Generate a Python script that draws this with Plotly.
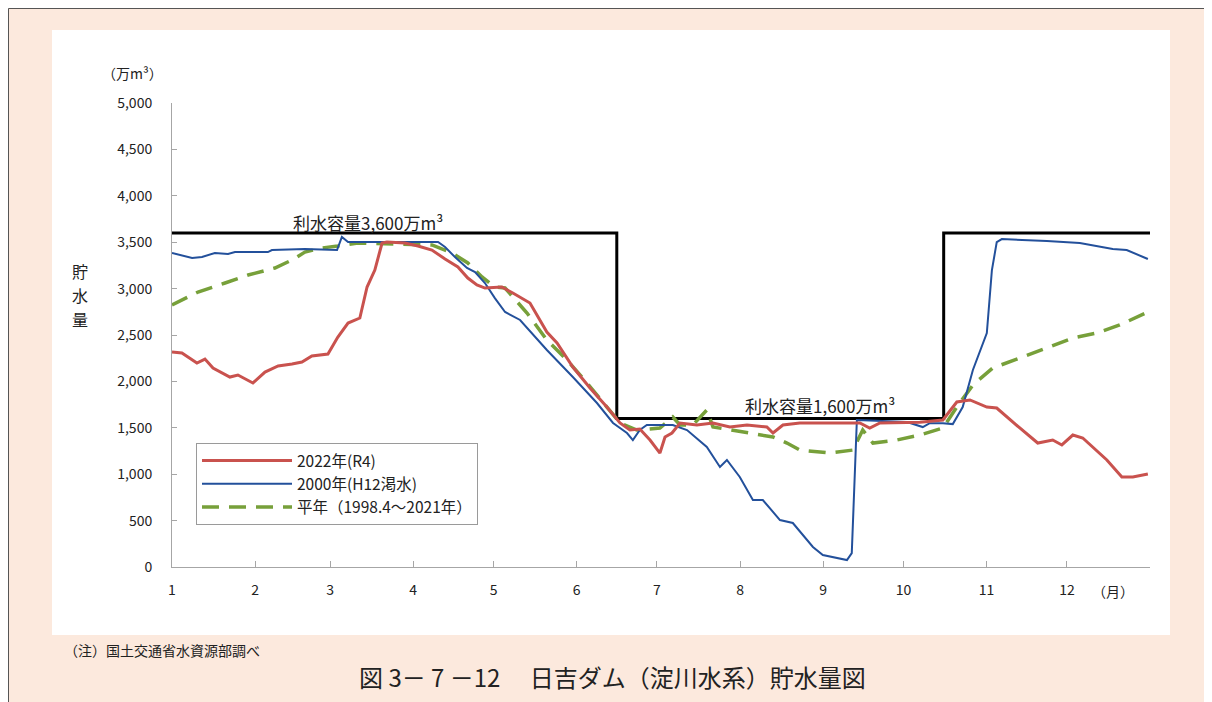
import plotly.graph_objects as go

# ---- data (x = day of year, 0 = Jan 1) ----
red_days = [0, 3.7, 9.3, 12.3, 15.3, 21.6, 24.6, 30.2, 34.7, 39.6, 44.8, 48.5, 52.2, 58.2, 61.9, 65.7, 70.1,
            72.8, 75.7, 78.4, 80.2, 86.9, 91.8, 97.0, 101.9, 106.7, 110.4, 113.8, 116.8, 123.1, 127.2, 133.6,
            139.9, 143.7, 149.6, 156.0, 162.3, 167.2, 170.9, 174.6, 178.4, 182.1, 184.0, 186.6, 189.6, 195.9,
            201.9, 208.2, 214.6, 222.0, 224.3, 228.0, 234.3, 245.5, 256.7, 260.4, 264.2, 279.1, 287.7, 292.9,
            297.8, 304.1, 307.8, 316.4, 323.1, 328.7, 332.1, 336.2, 339.9, 348.9, 354.5, 358.6, 364.2]
red_vals = [2317, 2306, 2198, 2241, 2144, 2047, 2069, 1983, 2101, 2166, 2187, 2209, 2274, 2295, 2478, 2629, 2683,
            3017, 3200, 3491, 3502, 3491, 3459, 3416, 3319, 3233, 3114, 3039, 3006, 3017, 2952, 2845,
            2532, 2414, 2155, 1929, 1724, 1552, 1476, 1487, 1368, 1228, 1401, 1444, 1552, 1530,
            1552, 1509, 1530, 1509, 1444, 1530, 1552, 1552, 1552, 1498, 1552, 1560, 1584, 1778,
            1800, 1724, 1713, 1498, 1336, 1368, 1315, 1422, 1390, 1153, 970, 970, 1002]

blue_days = [0, 7.5, 11.2, 16.0, 20.9, 23.5, 35.8, 37.3, 49.6, 61.6, 63.4, 65.7, 99.3, 101.9, 105.6, 110.1,
             113.1, 116.8, 120.5, 124.3, 129.9, 139.9, 149.6, 158.6, 164.6, 169.8, 172.0, 174.6, 177.2, 186.9,
             192.2, 199.6, 204.5, 207.1, 211.9, 216.8, 220.5, 226.9, 231.7, 239.2, 242.9, 251.9, 253.7, 255.6,
             260.4, 274.3, 280.2, 282.8, 287.7, 291.4, 295.1, 298.9, 304.1, 306.0, 307.8, 309.7, 326.5, 338.8,
             351.1, 356.3, 364.2]
blue_vals = [3384, 3330, 3341, 3384, 3373, 3394, 3394, 3416, 3427, 3416, 3556, 3502, 3502, 3448, 3340, 3222,
             3179, 3060, 2898, 2748, 2662, 2338, 2047, 1767, 1552, 1444, 1368, 1476, 1530, 1530,
             1476, 1293, 1078, 1153, 970, 722, 722, 506, 474, 216, 129, 75, 150, 1584,
             1580, 1562, 1508, 1550, 1550, 1540, 1724, 2123, 2521, 3200, 3500, 3534, 3513, 3491,
             3427, 3416, 3319]

green_days = [0, 3.7, 9.7, 19.8, 28.4, 38.4, 44.8, 49.6, 56.0, 61.9, 69.4, 84.3, 97.0, 104.5, 110.4, 115.7,
              120.5, 124.3, 132.5, 139.9, 147.4, 154.9, 162.3, 167.2, 173.5, 182.1, 186.9, 189.6, 194.4, 199.6,
              201.9, 209.3, 216.8, 224.3, 229.5, 234.3, 245.5, 254.1, 257.8, 261.6, 270.5, 279.1, 287.7, 292.9,
              298.9, 306.3, 316.4, 326.5, 336.2, 345.1, 353.7, 364.2]
green_vals = [2823, 2877, 2963, 3060, 3146, 3222, 3308, 3394, 3438, 3459, 3491, 3480, 3470, 3384, 3276, 3125,
              3017, 3006, 2737, 2446, 2230, 1983, 1724, 1552, 1476, 1498, 1616, 1530, 1530, 1692,
              1509, 1476, 1444, 1401, 1336, 1261, 1228, 1260, 1476, 1336, 1368, 1422, 1498, 1724,
              1961, 2144, 2252, 2360, 2468, 2521, 2608, 2748]

cap_days = [0, 166, 166, 288, 288, 365]
cap_vals = [3600, 3600, 1600, 1600, 3600, 3600]

month_start_days = [0, 31, 59, 90, 120, 151, 181, 212, 243, 273, 304, 334]
month_labels = ["1", "2", "3", "4", "5", "6", "7", "8", "9", "10", "11", "12"]

series_names = ["2022年(R4)", "2000年(H12渇水)", "平年（1998.4～2021年）"]
ylabel_chars = ["貯", "水", "量"]

FONT = "Noto Sans CJK JP"
OFF = 8                      # page body margin
W, H = 1212 - OFF, 702 - OFF
L, R, T, B = 172, 1150, 103, 567   # plot area in window pixels


def px(x):
    return (x - L) / (R - L)


def py(y):
    return (B - y) / (B - T)


fig = go.Figure()

fig.add_trace(go.Scatter(x=cap_days, y=cap_vals, mode="lines", line=dict(color="#000000", width=3),
                         showlegend=False, hoverinfo="skip"))
fig.add_trace(go.Scatter(x=green_days, y=green_vals, mode="lines", name=series_names[2],
                         line=dict(color="#77A03A", width=3.5, dash="17px,10px")))
fig.add_trace(go.Scatter(x=blue_days, y=blue_vals, mode="lines", name=series_names[1],
                         line=dict(color="#23509B", width=2)))
fig.add_trace(go.Scatter(x=red_days, y=red_vals, mode="lines", name=series_names[0],
                         line=dict(color="#C9524E", width=3)))

shapes = [
    dict(type="rect", xref="paper", yref="paper", x0=px(52), x1=px(1170), y0=py(635), y1=py(30),
         fillcolor="#FFFFFF", line=dict(width=0), layer="below"),
    dict(type="line", xref="paper", yref="paper", x0=px(8.5), x1=px(8.5), y0=py(702), y1=py(8.5),
         line=dict(color="#555555", width=1), layer="below"),
    dict(type="line", xref="paper", yref="paper", x0=px(8.5), x1=px(1212), y0=py(8.5), y1=py(8.5),
         line=dict(color="#555555", width=1), layer="below"),
]

txt = "#222222"
annotations = [
    dict(x=px(368), y=py(222), text="利水容量3,600万m³", font=dict(family=FONT, size=17, color=txt)),
    dict(x=px(820), y=py(405), text="利水容量1,600万m³", font=dict(family=FONT, size=17, color=txt)),
    dict(x=px(132), y=py(73), text="（万m³）", font=dict(family=FONT, size=14, color=txt)),
    dict(x=px(1113), y=py(591), text="（月）", font=dict(family=FONT, size=14, color=txt)),
    dict(x=px(62), y=py(650), text="（注）国土交通省水資源部調べ", font=dict(family=FONT, size=14, color=txt)),
    dict(x=px(612), y=py(676), text="図 3－ 7 －12　 日吉ダム（淀川水系）貯水量図",
         font=dict(family=FONT, size=24, color=txt)),
]
for i, ch in enumerate(ylabel_chars):
    annotations.append(dict(x=px(80), y=py(271 + 24 * i), text=ch, font=dict(family=FONT, size=16, color=txt)))
for a in annotations:
    a.update(xref="paper", yref="paper", showarrow=False, xanchor="center", yanchor="middle")
annotations[4].update(xanchor="left")

fig.update_layout(
    width=W, height=H,
    margin=dict(l=L - OFF, r=1212 - R, t=T - OFF, b=702 - B, pad=0),
    paper_bgcolor="#FCE9DD",
    plot_bgcolor="#FFFFFF",
    font=dict(family=FONT, size=14, color=txt),
    shapes=shapes,
    annotations=annotations,
    showlegend=True,
    legend=dict(x=px(196), y=py(443), xanchor="left", yanchor="top", bgcolor="#FFFFFF",
                bordercolor="#9A9A9A", borderwidth=1, traceorder="reversed", itemwidth=90,
                font=dict(family=FONT, size=15.5, color=txt), tracegroupgap=0),
    xaxis=dict(range=[0, 365], tickmode="array", tickvals=month_start_days, ticktext=month_labels,
               showgrid=False, zeroline=False, showline=True, linecolor="#A6A6A6", linewidth=1,
               ticks="inside", ticklen=6, tickcolor="#A6A6A6", ticklabelstandoff=10,
               tickfont=dict(family=FONT, size=14, color=txt)),
    yaxis=dict(range=[0, 5000], dtick=500, tickformat=",", showgrid=False, zeroline=False,
               showline=True, linecolor="#A6A6A6", linewidth=1, ticks="inside", ticklen=5,
               tickcolor="#A6A6A6", ticklabelstandoff=16,
               tickfont=dict(family=FONT, size=14, color=txt)),
)

fig.write_html("out.html")
